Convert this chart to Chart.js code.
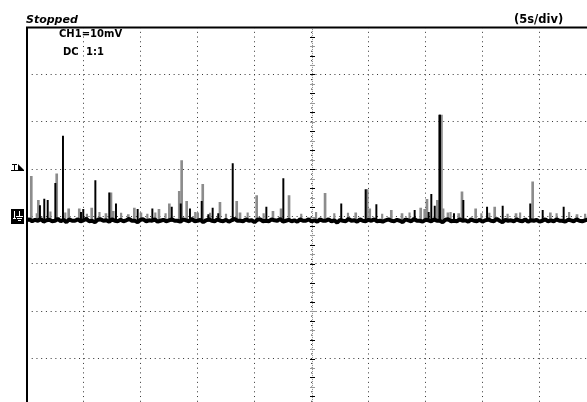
<!DOCTYPE html>
<html><head><meta charset="utf-8">
<script src="https://cdn.jsdelivr.net/npm/chart.js@4"></script>
<style>
html,body{margin:0;padding:0;background:#fff;overflow:hidden;width:587px;height:402px}
#wrap{position:absolute;left:0;top:0;width:600px;height:410px}
.t{position:absolute;font-family:"DejaVu Sans";font-weight:bold;color:#000;white-space:pre;line-height:1}
</style></head><body>
<div id="wrap"><canvas id="c" width="600" height="410"></canvas></div>
<div class="t" style="left:26px;top:14px;font-size:11px;font-style:italic">Stopped</div>
<div class="t" style="left:514px;top:14px;font-size:11.5px">(5s/div)</div>
<div class="t" style="left:59px;top:29px;font-size:10px">CH1=10mV</div>
<div class="t" style="left:63px;top:46.5px;font-size:10px">DC</div>
<div class="t" style="left:86px;top:46.5px;font-size:10px">1:1</div>
<script>
// time axis in seconds (5 s/div), vertical in mV (10 mV/div)
const timeMin = 0, timeMax = 50, timeStep = 5;
const voltMin = -40, voltMax = 40, voltStep = 10;
const triggerLevel = 10;
const groundLevel = 0;
const spikeBase = -1.0;

const grayTimes = [0.42,1.04,2.65,3.70,4.63,5.72,6.97,7.41,7.61,8.93,9.46,10.04,11.62,12.53,13.40,13.61,14.05,15.02,15.46,16.97,18.44,18.73,20.19,21.62,22.33,23.03,26.19,28.88,29.89,30.11,32.00,32.94,34.58,34.93,35.13,36.04,36.40,36.54,36.97,37.91,38.20,39.40,41.07,42.94,44.40,45.95,48.29];
const grayPeaks = [8.5,3.4,9.0,1.6,1.6,1.8,0.6,5.0,1.1,0.4,1.8,0.8,1.5,2.7,5.3,11.8,3.2,0.8,6.8,3.0,3.2,0.8,4.4,1.1,1.6,4.4,4.9,0.8,5.7,1.6,1.3,0.6,1.8,1.5,3.6,3.4,21.4,1.6,0.8,0.6,5.2,1.6,2.0,0.6,7.3,0.8,0.4];

const minorTimes = [0.9,2.1,3.4,5.3,6.4,8.3,10.6,11.3,12.2,14.8,16.1,17.5,19.4,20.8,24.1,25.4,27.0,28.2,31.2,33.6,37.2,39.9,40.6,42.2,43.3,46.5,47.6,49.0];
const minorPeaks = [0.6,1.0,0.8,0.5,0.9,0.7,0.5,0.8,0.6,0.9,0.7,0.5,0.8,0.6,0.5,0.9,0.6,0.7,0.5,0.8,0.9,0.6,0.7,0.5,0.8,0.6,0.9,0.5];

const blackTimes = [1.18,1.56,1.86,2.53,3.20,4.78,4.98,6.04,7.26,7.85,9.75,11.04,12.74,13.53,14.34,15.37,15.95,16.33,16.82,18.09,21.04,22.53,27.61,29.75,30.69,34.05,35.28,35.51,35.81,36.22,36.27,37.50,38.32,40.40,41.77,44.19,45.28,47.12];
const blackPeaks = [2.3,3.7,3.4,7.0,17.0,0.9,1.5,7.6,5.0,2.7,1.5,1.6,2.0,2.7,1.6,3.2,0.4,1.8,0.6,11.2,2.0,8.0,2.7,5.7,2.5,1.3,0.9,4.7,2.2,21.4,21.4,0.6,3.4,2.0,2.2,2.7,1.3,2.0];

const sampleStep = 0.25;
const traceValues = [
-0.8,-0.6,-1.0,-0.7,-0.9,-0.5,-1.1,-0.8,-0.7,-1.0,-0.9,-0.5,-1.0,-0.7,-1.2,-0.6,-0.9,-0.9,-0.6,-1.0,-0.8,-0.5,-1.0,-0.9,-1.2,-0.7,-0.6,-0.9,-0.8,-1.1,-0.6,-0.9,-1.0,-0.7,-1.0,-0.8,-0.5,-0.9,-0.9,-1.2,-0.7,-0.6,-1.0,-0.8,-0.9,-0.6,-1.1,-0.9,-0.7,-1.0,
-0.8,-0.6,-0.9,-0.9,-1.1,-0.6,-0.8,-1.0,-0.5,-1.0,-0.9,-0.7,-1.2,-0.8,-0.6,-0.9,-1.0,-0.6,-0.9,-1.0,-0.7,-1.1,-0.8,-0.5,-0.9,-0.9,-1.0,-0.6,-0.9,-0.8,-1.2,-0.7,-0.6,-1.0,-0.9,-1.0,-0.6,-0.8,-0.9,-0.5,-1.1,-0.9,-0.7,-1.0,-0.8,-1.1,-0.6,-0.9,-0.9,-0.6,
-1.0,-0.8,-1.1,-0.6,-0.9,-0.9,-0.6,-1.0,-0.8,-1.3,-0.7,-0.9,-1.0,-0.5,-0.9,-0.8,-1.1,-0.6,-0.9,-1.0,-0.7,-0.9,-0.6,-1.0,-0.9,-1.1,-0.8,-0.6,-0.9,-1.0,-0.7,-0.9,-1.2,-0.6,-0.8,-1.0,-0.5,-0.9,-0.9,-1.1,-0.7,-0.8,-1.0,-0.6,-0.9,-0.9,-1.2,-0.7,-0.6,-1.0,
-0.9,-1.0,-0.6,-0.9,-0.8,-1.1,-0.6,-0.9,-1.0,-0.7,-1.1,-0.8,-0.6,-0.9,-1.0,-0.5,-0.9,-1.2,-0.7,-0.9,-0.8,-1.0,-0.6,-0.9,-1.0,-0.6,-1.1,-0.8,-0.9,-0.7,-1.1,-0.9,-0.6,-1.0,-0.8,-1.0,-0.6,-0.9,-0.9,-1.1,-0.7,-0.8,-1.0,-0.6,-0.9,-1.0,-0.8,-0.6,-0.9,-1.0
];

const grayData = grayTimes.map((t,i)=>({x:t, y:[spikeBase, grayPeaks[i]]}));
const minorData = minorTimes.map((t,i)=>({x:t, y:[spikeBase, minorPeaks[i]]}));
const blackData = blackTimes.map((t,i)=>({x:t, y:[spikeBase, blackPeaks[i]]}));
const traceData = traceValues.map((v,i)=>({x:i*sampleStep, y:v}));

const scopePlugin = {
  id:'scope',
  beforeDatasetsDraw(chart){
    const {ctx, chartArea:a, scales:{x,y}} = chart;
    ctx.save();
    const cx = Math.round(x.getPixelForValue((timeMin+timeMax)/2)) + 0.5;
    ctx.strokeStyle = '#888'; ctx.lineWidth = 1; ctx.setLineDash([1,1]);
    ctx.beginPath(); ctx.moveTo(cx, a.top); ctx.lineTo(cx, a.bottom); ctx.stroke();
    ctx.setLineDash([]);
    let k = 0;
    for (let v = voltMin; v <= voltMax; v += 2) {
      const py = Math.round(y.getPixelForValue(v)) + 0.5;
      ctx.strokeStyle = (k % 2 === 1) ? '#000' : '#999';
      ctx.beginPath(); ctx.moveTo(cx-2.5, py); ctx.lineTo(cx+2.5, py); ctx.stroke();
      k++;
    }
    ctx.restore();
  },
  afterDraw(chart){
    const {ctx, chartArea:a, scales:{x,y}} = chart;
    ctx.save();
    ctx.strokeStyle = '#000'; ctx.lineWidth = 2;
    ctx.beginPath();
    ctx.moveTo(a.left+0.5, a.bottom); ctx.lineTo(a.left+0.5, a.top+0.5); ctx.lineTo(a.right, a.top+0.5);
    ctx.stroke();
    const ty = Math.round(y.getPixelForValue(triggerLevel));
    ctx.lineWidth = 1;
    ctx.beginPath();
    ctx.moveTo(12, ty-4.5); ctx.lineTo(17, ty-4.5);
    ctx.moveTo(14.5, ty-4.5); ctx.lineTo(14.5, ty+1);
    ctx.moveTo(11, ty+1.5); ctx.lineTo(24, ty+1.5);
    ctx.stroke();
    ctx.fillStyle = '#000';
    ctx.beginPath(); ctx.moveTo(18, ty-5); ctx.lineTo(24, ty+1); ctx.lineTo(18, ty+1); ctx.closePath(); ctx.fill();
    const gy = Math.round(y.getPixelForValue(groundLevel));
    ctx.fillRect(11, gy-8, 13, 15);
    ctx.strokeStyle = '#fff'; ctx.lineWidth = 1;
    ctx.beginPath();
    ctx.moveTo(14.5, gy-6); ctx.lineTo(14.5, gy+1);
    ctx.moveTo(13, gy+1.5); ctx.lineTo(16, gy+1.5);
    ctx.moveTo(19.5, gy-6); ctx.lineTo(19.5, gy-1);
    ctx.moveTo(16, gy-0.5); ctx.lineTo(23, gy-0.5);
    ctx.moveTo(17, gy+1.5); ctx.lineTo(22, gy+1.5);
    ctx.moveTo(18, gy+3.5); ctx.lineTo(21, gy+3.5);
    ctx.stroke();
    ctx.restore();
  }
};

new Chart(document.getElementById('c'), {
  type:'bar',
  data:{
    datasets:[
      {type:'bar', data:minorData, backgroundColor:'#8c8c8c', barThickness:1.5, grouped:false, order:4},
      {type:'bar', data:grayData, backgroundColor:'#8c8c8c', barThickness:2, grouped:false, order:3},
      {type:'bar', data:blackData, backgroundColor:'#000', barThickness:1.3, grouped:false, order:2},
      {type:'line', data:traceData, borderColor:'#000', borderWidth:4, borderJoinStyle:'bevel', pointRadius:0, tension:0, order:1}
    ]
  },
  options:{
    responsive:false, maintainAspectRatio:false, animation:false,
    layout:{padding:{left:26.5, top:27.1, right:3.5, bottom:4.1}},
    plugins:{legend:{display:false}, tooltip:{enabled:false}, title:{display:false}},
    scales:{
      x:{type:'linear', min:timeMin, max:timeMax, offset:false,
         ticks:{display:false, stepSize:timeStep},
         grid:{display:true, drawTicks:false, offset:false, color:'#333', lineWidth:1},
         border:{display:false, dash:[1,3.73]}},
      y:{type:'linear', min:voltMin, max:voltMax,
         ticks:{display:false, stepSize:voltStep},
         grid:{display:true, drawTicks:false, color:'#333', lineWidth:1},
         border:{display:false, dash:[1,3.73]}}
    }
  },
  plugins:[scopePlugin]
});
</script>
</body></html>
